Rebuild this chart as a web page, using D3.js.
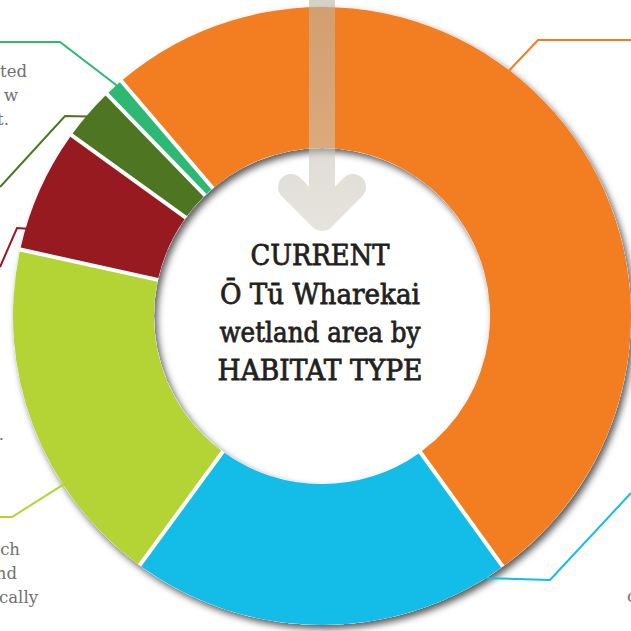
<!DOCTYPE html>
<html>
<head>
<meta charset="utf-8">
<script src="https://cdn.jsdelivr.net/npm/d3@7"></script>
<style>
  body { margin: 0; background: #fff; }
  svg { display: block; }
</style>
</head>
<body>
<script>
// Chart data: share of current wetland area (%) by habitat type, clockwise from the top-left
const habitatTypes = ["habitat1", "habitat2", "habitat3", "habitat4", "habitat5", "habitat6"];
const areaShares = [51.3, 20.0, 18.4, 6.5, 2.8, 1.0];
const habitatColours = ["#f37e22", "#13bde8", "#b4d334", "#961a1f", "#4e7622", "#2db874"];

// centre title lines
const titleLines = ["CURRENT", "Ō Tū Wharekai", "wetland area by", "HABITAT TYPE"];

// label text that is visible at the cropped edges
const leftFragments = ["ted", "w", "t.", ".", "ch", "nd", "cally"];
const rightFragments = ["c"];

let svgWidth = 631;
let svgHeight = 631;

let cx = 322, cy = 316;
let outerR = 309, innerR = 168;
let startDeg = -40.5;

let svg = d3.select("body")
  .append("svg")
  .attr("width", svgWidth)
  .attr("height", svgHeight);

let defs = svg.append("defs");
defs.append("filter")
  .attr("id", "shadow")
  .attr("x", "-20%").attr("y", "-20%")
  .attr("width", "140%").attr("height", "140%")
  .append("feDropShadow")
  .attr("dx", 3).attr("dy", 4)
  .attr("stdDeviation", 3.5)
  .attr("flood-color", "#000")
  .attr("flood-opacity", 0.65);

let arrowGrad = defs.append("linearGradient")
  .attr("id", "arrowGrad")
  .attr("gradientUnits", "userSpaceOnUse")
  .attr("x1", 0).attr("y1", 0).attr("x2", 0).attr("y2", 230);
arrowGrad.append("stop").attr("offset", "0%").attr("stop-color", "#b9b4a2");
arrowGrad.append("stop").attr("offset", "100%").attr("stop-color", "#d4d1c6");

let chartGroup = svg.append("g")
  .attr("transform", `translate(${cx}, ${cy})`);

let pie = d3.pie()
  .sort(null)
  .value(d => d.share)
  .startAngle(startDeg * Math.PI / 180)
  .endAngle(startDeg * Math.PI / 180 + 2 * Math.PI);

let arc = d3.arc()
  .innerRadius(innerR)
  .outerRadius(outerR)
  .padRadius(outerR)
  .padAngle(4 / outerR);

let data = habitatTypes.map((h, i) => ({ name: h, share: areaShares[i], colour: habitatColours[i] }));
let arcs = pie(data);

// white ring underneath carries the drop shadow
chartGroup.append("path")
  .attr("d", d3.arc().innerRadius(innerR).outerRadius(outerR).startAngle(0).endAngle(2 * Math.PI)())
  .attr("fill", "#fff")
  .attr("filter", "url(#shadow)");

// leader lines: angle (deg, clockwise from top) where they touch the ring, then elbow and end
let leaders = [
  { slice: 0, angle: 37.3, elbow: [538, 40], end: [631, 40] },
  { slice: 1, angle: 148.6, elbow: [550, 580], end: [631, 493] },
  { slice: 2, angle: 236.9, elbow: [12, 517], end: [0, 517] },
  { slice: 3, angle: 286.5, elbow: [17, 228], end: [0, 267] },
  { slice: 4, angle: 310.5, elbow: [65, 116], end: [0, 187] },
  { slice: 5, angle: 318.4, elbow: [60, 42], end: [0, 42] }
];

svg.selectAll(".leader")
  .data(leaders)
  .enter()
  .append("path")
  .attr("class", "leader")
  .attr("fill", "none")
  .attr("stroke", d => habitatColours[d.slice])
  .attr("stroke-width", 2)
  .attr("d", d => {
    let a = d.angle * Math.PI / 180;
    let x0 = cx + (outerR - 2) * Math.sin(a);
    let y0 = cy - (outerR - 2) * Math.cos(a);
    return d3.line()([[x0, y0], d.elbow, d.end]);
  });

chartGroup.selectAll(".slice")
  .data(arcs)
  .enter()
  .append("path")
  .attr("class", "slice")
  .attr("d", arc)
  .attr("fill", d => d.data.colour);

// translucent arrow pointing into the centre
svg.append("path")
  .attr("d", `M${cx},0 L${cx},218 M${cx - 31},187 L${cx},218 L${cx + 31},187`)
  .attr("fill", "none")
  .attr("stroke", "url(#arrowGrad)")
  .attr("stroke-width", 26)
  .attr("stroke-linecap", "round")
  .attr("stroke-linejoin", "round")
  .attr("opacity", 0.6);

// centre title
let titleBaselines = [265, 304, 342, 380];
let titleWidths = [139, 200, 201, 205];
svg.selectAll(".title")
  .data(titleLines)
  .enter()
  .append("text")
  .attr("class", "title")
  .attr("x", 320)
  .attr("y", (d, i) => titleBaselines[i])
  .attr("text-anchor", "middle")
  .attr("textLength", (d, i) => titleWidths[i])
  .attr("lengthAdjust", "spacingAndGlyphs")
  .style("font-family", "'DejaVu Serif', serif")
  .style("font-size", "27px")
  .attr("fill", "#231f20")
  .attr("stroke", "#231f20")
  .attr("stroke-width", 0.8)
  .text(d => d);

// cropped label text at the edges
let leftEnds = [27, 18, 9, 4, 20, 17, 38];
let leftBaselines = [77, 101, 125, 440, 555, 579, 603];
svg.selectAll(".frag-left")
  .data(leftFragments)
  .enter()
  .append("text")
  .attr("class", "frag-left")
  .attr("x", (d, i) => leftEnds[i])
  .attr("y", (d, i) => leftBaselines[i])
  .attr("text-anchor", "end")
  .style("font-family", "'DejaVu Serif', serif")
  .style("font-size", "16.5px")
  .attr("fill", "#707070")
  .text(d => d);

svg.selectAll(".frag-right")
  .data(rightFragments)
  .enter()
  .append("text")
  .attr("class", "frag-right")
  .attr("x", 627)
  .attr("y", 602)
  .style("font-family", "'DejaVu Serif', serif")
  .style("font-size", "16.5px")
  .attr("fill", "#707070")
  .text(d => d);
</script>
</body>
</html>
